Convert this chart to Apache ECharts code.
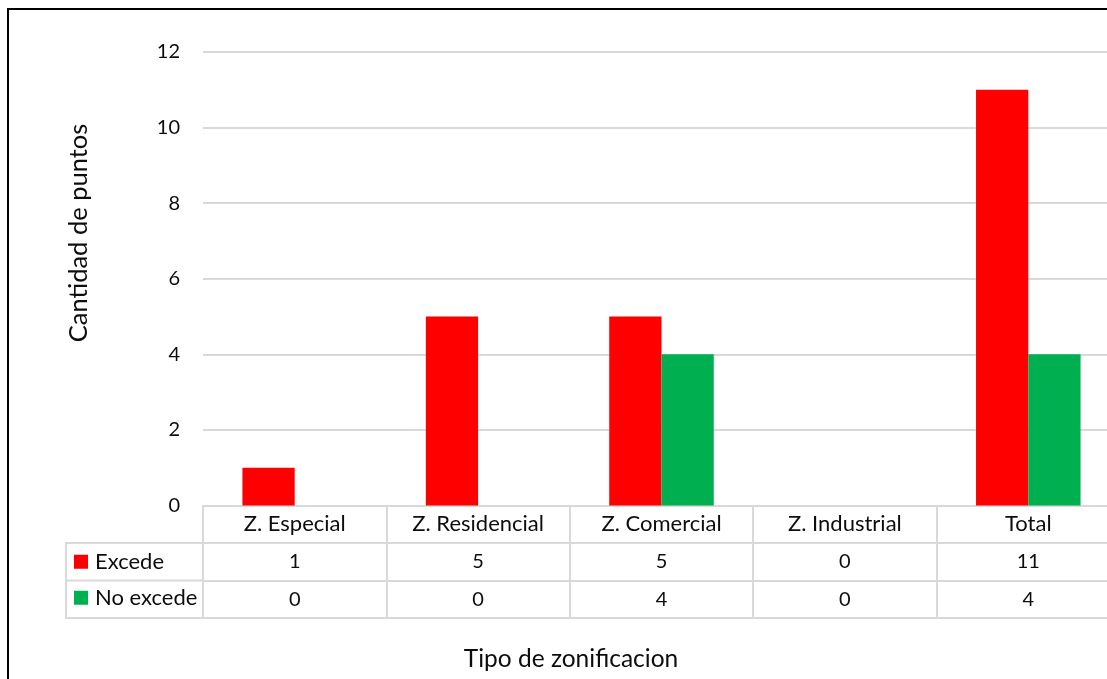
<!DOCTYPE html>
<html>
<head>
<meta charset="utf-8">
<script src="https://cdn.jsdelivr.net/npm/echarts@6/dist/echarts.min.js"></script>
<style>
  html, body { margin: 0; padding: 0; background: #fff; }
  #chart { width: 1107px; height: 679px; }
</style>
</head>
<body>
<div id="chart"></div>
<script>
// Zoning categories and counts of measurement points per zone
const categories = ['Z. Especial', 'Z. Residencial', 'Z. Comercial', 'Z. Industrial', 'Total'];
const seriesNames = ['Excede', 'No excede'];
const excede = [1, 5, 5, 0, 11];
const noExcede = [0, 0, 4, 0, 4];
const yTicks = { min: 0, max: 12, interval: 2 };

const FONT = 'Lato';
const GRID_COLOR = '#d9d9d9';
const TEXT_COLOR = '#0d0d0d';
const RED = '#ff0000';
const GREEN = '#00b050';

// Plot/table layout
const W = 1107, H = 679;
const gridLeft = 203, gridTop = 52, gridBottomY = 505.5;
const gridWidth = 917;            // plot runs slightly past the right edge
const rowH = 37.5;
const legendColLeft = 66;

const textFont = 22;   // words
const numFont = 20;    // numbers
const titleFont = 24.5;

const chart = echarts.init(document.getElementById('chart'), null, { renderer: 'canvas' });

// One x axis per table row: its axis line draws the row border, its labels fill the cells
function tableAxis(rowIndex, values, showLabels, showTicks) {
  return {
    type: 'category',
    data: categories,
    position: 'bottom',
    offset: rowIndex * rowH,
    gridIndex: 0,
    boundaryGap: true,
    axisLine: { show: true, lineStyle: { color: GRID_COLOR, width: 2 } },
    axisTick: {
      show: showTicks,
      interval: 0,
      alignWithLabel: false,
      inside: false,
      length: rowH * 3,
      lineStyle: { color: GRID_COLOR, width: 2 }
    },
    axisLabel: {
      show: showLabels,
      interval: 0,
      margin: rowH / 2,
      verticalAlign: 'middle',
      fontFamily: FONT,
      fontSize: values ? numFont : textFont,
      color: TEXT_COLOR,
      formatter: values ? (v, i) => String(values[i]) : (v) => v
    },
    splitLine: { show: false }
  };
}

const option = {
  animation: false,
  backgroundColor: '#fff',
  textStyle: { fontFamily: FONT },
  grid: {
    left: gridLeft,
    top: gridTop,
    width: gridWidth,
    height: gridBottomY - gridTop,
    containLabel: false,
    outerBoundsMode: 'none'
  },
  legend: {
    data: seriesNames,
    orient: 'vertical',
    left: legendColLeft + 8,
    top: gridBottomY + rowH + rowH / 2 - 11,
    padding: 0,
    itemWidth: 14,
    itemHeight: 14,
    itemGap: rowH - 23.5,
    icon: 'rect',
    textStyle: {
      fontFamily: FONT,
      fontSize: textFont,
      color: TEXT_COLOR,
      lineHeight: 20,
      padding: [0, 0, 0, 2]
    }
  },
  xAxis: [
    tableAxis(0, null, true, true),
    tableAxis(1, excede, true, false),
    tableAxis(2, noExcede, true, false),
    tableAxis(3, null, false, false)
  ],
  yAxis: {
    type: 'value',
    min: yTicks.min,
    max: yTicks.max,
    interval: yTicks.interval,
    axisLine: { show: false },
    axisTick: { show: false },
    axisLabel: {
      margin: 23,
      fontFamily: FONT,
      fontSize: numFont,
      color: TEXT_COLOR
    },
    splitLine: { lineStyle: { color: GRID_COLOR, width: 2 } }
  },
  series: [
    {
      name: seriesNames[0],
      type: 'bar',
      xAxisIndex: 0,
      data: excede,
      barGap: '0%',
      barCategoryGap: '43%',
      itemStyle: { color: RED }
    },
    {
      name: seriesNames[1],
      type: 'bar',
      xAxisIndex: 0,
      data: noExcede,
      barGap: '0%',
      barCategoryGap: '43%',
      itemStyle: { color: GREEN }
    }
  ],
  graphic: [
    // outer chart frame
    {
      type: 'rect',
      shape: { x: 8, y: 9, width: W + 20, height: H + 20 },
      style: { fill: null, stroke: '#000', lineWidth: 2 },
      silent: true
    },
    // legend column of the data table
    {
      type: 'polyline',
      shape: { points: [[gridLeft, gridBottomY + rowH], [legendColLeft, gridBottomY + rowH], [legendColLeft, gridBottomY + rowH * 3], [gridLeft, gridBottomY + rowH * 3]] },
      style: { fill: null, stroke: GRID_COLOR, lineWidth: 2 },
      silent: true
    },
    {
      type: 'line',
      shape: { x1: legendColLeft, y1: gridBottomY + rowH * 2, x2: gridLeft, y2: gridBottomY + rowH * 2 },
      style: { stroke: GRID_COLOR, lineWidth: 2 },
      silent: true
    },
    // axis titles
    {
      type: 'text',
      x: 79,
      y: 233,
      rotation: Math.PI / 2,
      style: {
        text: 'Cantidad de puntos',
        fontFamily: FONT,
        fontSize: titleFont + 1,
        fill: TEXT_COLOR,
        textAlign: 'center',
        textVerticalAlign: 'middle'
      }
    },
    {
      type: 'text',
      x: 571,
      y: 659,
      style: {
        text: 'Tipo de zonificacion',
        fontFamily: FONT,
        fontSize: titleFont,
        fill: TEXT_COLOR,
        textAlign: 'center',
        textVerticalAlign: 'middle'
      }
    }
  ]
};

chart.setOption(option);
</script>
</body>
</html>
